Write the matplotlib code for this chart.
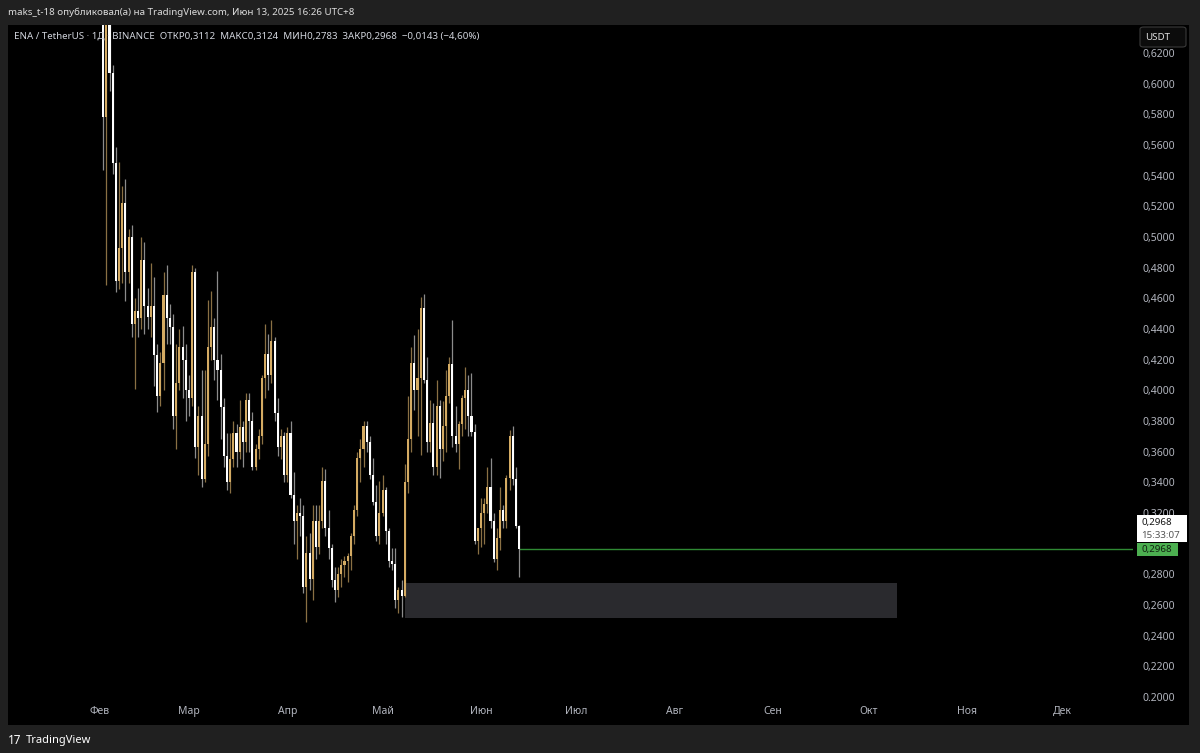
import numpy as np
import pandas as pd
import matplotlib
matplotlib.use("Agg")
import matplotlib.pyplot as plt
import matplotlib.dates as mdates
from matplotlib.patches import Rectangle, FancyBboxPatch

plt.rcParams['font.family'] = ['Noto Sans', 'DejaVu Sans']

# Daily candles ENA/USDT, 1 Feb - 13 Jun 2025
dates = pd.date_range('2025-02-01', '2025-06-13', freq='D')
opens = [0.780, 0.700, 0.578, 0.640, 0.607, 0.548, 0.471, 0.493, 0.522, 0.477,
         0.500, 0.443, 0.452, 0.447, 0.485, 0.455, 0.448, 0.455, 0.423, 0.396,
         0.418, 0.462, 0.447, 0.441, 0.383, 0.405, 0.428, 0.420, 0.400, 0.395,
         0.477, 0.363, 0.383, 0.342, 0.365, 0.428, 0.441, 0.420, 0.413, 0.389,
         0.357, 0.340, 0.355, 0.372, 0.360, 0.376, 0.366, 0.394, 0.380, 0.350,
         0.362, 0.370, 0.408, 0.424, 0.410, 0.432, 0.385, 0.363, 0.370, 0.345,
         0.372, 0.332, 0.315, 0.320, 0.318, 0.272, 0.294, 0.277, 0.315, 0.298,
         0.315, 0.341, 0.310, 0.297, 0.276, 0.270, 0.280, 0.286, 0.289, 0.292,
         0.305, 0.322, 0.356, 0.362, 0.377, 0.366, 0.345, 0.327, 0.305, 0.320,
         0.335, 0.308, 0.289, 0.287, 0.263, 0.270, 0.266, 0.340, 0.368, 0.418,
         0.400, 0.408, 0.454, 0.407, 0.366, 0.379, 0.350, 0.390, 0.362, 0.377,
         0.396, 0.417, 0.370, 0.365, 0.378, 0.395, 0.400, 0.383, 0.373, 0.302,
         0.310, 0.320, 0.326, 0.337, 0.315, 0.290, 0.304, 0.322, 0.315, 0.343,
         0.370, 0.342, 0.3112]
highs = [0.800, 0.720, 0.660, 0.655, 0.612, 0.559, 0.549, 0.533, 0.538, 0.505,
         0.508, 0.460, 0.467, 0.500, 0.497, 0.467, 0.483, 0.474, 0.430, 0.425,
         0.477, 0.482, 0.456, 0.450, 0.430, 0.440, 0.442, 0.430, 0.410, 0.482,
         0.480, 0.390, 0.413, 0.413, 0.459, 0.465, 0.447, 0.478, 0.424, 0.395,
         0.372, 0.372, 0.380, 0.378, 0.394, 0.380, 0.398, 0.398, 0.386, 0.365,
         0.375, 0.410, 0.443, 0.437, 0.446, 0.435, 0.395, 0.375, 0.373, 0.376,
         0.380, 0.347, 0.325, 0.330, 0.325, 0.305, 0.307, 0.325, 0.325, 0.325,
         0.350, 0.349, 0.322, 0.300, 0.285, 0.285, 0.290, 0.292, 0.294, 0.307,
         0.325, 0.360, 0.368, 0.380, 0.380, 0.370, 0.356, 0.338, 0.341, 0.345,
         0.337, 0.310, 0.297, 0.297, 0.272, 0.276, 0.352, 0.396, 0.428, 0.436,
         0.440, 0.461, 0.463, 0.422, 0.394, 0.392, 0.407, 0.394, 0.393, 0.413,
         0.422, 0.446, 0.390, 0.380, 0.397, 0.415, 0.410, 0.411, 0.378, 0.310,
         0.330, 0.330, 0.350, 0.356, 0.320, 0.310, 0.337, 0.325, 0.345, 0.374,
         0.377, 0.350, 0.3124]
lows = [0.660, 0.544, 0.469, 0.595, 0.541, 0.464, 0.466, 0.470, 0.458, 0.470,
        0.435, 0.401, 0.435, 0.440, 0.437, 0.440, 0.435, 0.403, 0.386, 0.390,
        0.400, 0.430, 0.430, 0.375, 0.362, 0.400, 0.395, 0.380, 0.383, 0.390,
        0.356, 0.345, 0.337, 0.340, 0.357, 0.420, 0.407, 0.394, 0.368, 0.350,
        0.335, 0.333, 0.350, 0.350, 0.355, 0.350, 0.360, 0.360, 0.348, 0.348,
        0.355, 0.365, 0.395, 0.400, 0.405, 0.380, 0.357, 0.355, 0.340, 0.340,
        0.330, 0.300, 0.290, 0.305, 0.268, 0.249, 0.270, 0.263, 0.290, 0.293,
        0.310, 0.305, 0.290, 0.272, 0.262, 0.265, 0.272, 0.278, 0.275, 0.283,
        0.300, 0.318, 0.340, 0.350, 0.360, 0.342, 0.325, 0.302, 0.300, 0.318,
        0.300, 0.285, 0.283, 0.258, 0.255, 0.252, 0.265, 0.333, 0.360, 0.387,
        0.370, 0.358, 0.405, 0.360, 0.360, 0.345, 0.345, 0.343, 0.354, 0.360,
        0.392, 0.363, 0.360, 0.349, 0.370, 0.375, 0.370, 0.370, 0.300, 0.293,
        0.298, 0.300, 0.320, 0.310, 0.288, 0.283, 0.296, 0.310, 0.310, 0.335,
        0.338, 0.310, 0.2783]
closes = [0.700, 0.578, 0.640, 0.607, 0.548, 0.471, 0.493, 0.522, 0.477, 0.500,
          0.443, 0.452, 0.447, 0.485, 0.455, 0.448, 0.455, 0.423, 0.396, 0.418,
          0.462, 0.447, 0.441, 0.383, 0.405, 0.428, 0.420, 0.400, 0.395, 0.477,
          0.363, 0.383, 0.342, 0.365, 0.428, 0.441, 0.420, 0.413, 0.389, 0.357,
          0.340, 0.355, 0.372, 0.360, 0.376, 0.366, 0.394, 0.380, 0.350, 0.362,
          0.370, 0.408, 0.424, 0.410, 0.432, 0.385, 0.363, 0.370, 0.345, 0.372,
          0.332, 0.315, 0.320, 0.318, 0.272, 0.294, 0.277, 0.315, 0.298, 0.315,
          0.341, 0.310, 0.297, 0.276, 0.270, 0.280, 0.286, 0.289, 0.292, 0.305,
          0.322, 0.356, 0.362, 0.377, 0.366, 0.345, 0.327, 0.305, 0.320, 0.335,
          0.308, 0.289, 0.287, 0.263, 0.270, 0.266, 0.340, 0.368, 0.418, 0.400,
          0.408, 0.454, 0.407, 0.366, 0.379, 0.350, 0.390, 0.362, 0.377, 0.396,
          0.417, 0.370, 0.365, 0.378, 0.395, 0.400, 0.383, 0.373, 0.302, 0.310,
          0.320, 0.326, 0.337, 0.315, 0.290, 0.304, 0.322, 0.315, 0.343, 0.370,
          0.342, 0.3112, 0.2968]

# drawn zone and horizontal ray
zone_start, zone_end = '2025-05-08', '2025-10-10'
zone_low, zone_high = 0.2515, 0.2745
last_price = 0.2968

# 0,3000 sits under the last-price labels, so it is not shown
price_ticks = [0.20, 0.22, 0.24, 0.26, 0.28, 0.32, 0.34, 0.36, 0.38, 0.40, 0.42,
               0.44, 0.46, 0.48, 0.50, 0.52, 0.54, 0.56, 0.58, 0.60, 0.62]
price_labels = [f'{v:.4f}'.replace('.', ',') for v in price_ticks]
price_labels[0] = '0.2000'
month_starts = pd.date_range('2025-02-01', '2025-12-01', freq='MS')
month_labels = ['Фев', 'Мар', 'Апр', 'Май', 'Июн', 'Июл', 'Авг', 'Сен', 'Окт', 'Ноя', 'Дек']

W, H = 1200, 753
fig = plt.figure(figsize=(W / 100, H / 100), dpi=100)
fig.patch.set_facecolor('#202020')

def box(x0, y0, x1, y1):
    # pixel box (top-left origin) -> figure fraction rect
    return [x0 / W, 1 - y1 / H, (x1 - x0) / W, (y1 - y0) / H]

bg = fig.add_axes(box(8, 25, 1189, 725))
bg.set_facecolor('black')
bg.set_xticks([])
bg.set_yticks([])
for s in bg.spines.values():
    s.set_visible(False)

ax = fig.add_axes(box(8, 25, 1133, 725))
ax.patch.set_alpha(0)
for s in ax.spines.values():
    s.set_visible(False)

x = mdates.date2num(dates)
feb1 = mdates.date2num(pd.Timestamp('2025-02-01'))
ppd = 3.175
ax.set_xlim(feb1 - (100 - 8) / ppd, feb1 + (1133 - 100) / ppd)
ppu = 1533.3
ax.set_ylim(0.20 - (725 - 697) / ppu, 0.62 + (53 - 25) / ppu)

o = np.array(opens); h = np.array(highs); l = np.array(lows); c = np.array(closes)
up = c >= o
up_body, up_wick = '#d4ab63', '#8a7044'
dn_body, dn_wick = '#ffffff', '#8c8c8c'

ax.vlines(x[up], l[up], h[up], color=up_wick, lw=0.9, zorder=3)
ax.vlines(x[~up], l[~up], h[~up], color=dn_wick, lw=0.9, zorder=3)
bw = 0.65
bh = np.maximum(np.abs(c - o), 0.0015)
ax.bar(x[up], bh[up], bottom=np.minimum(o, c)[up], width=bw, color=up_body, lw=0, zorder=4)
ax.bar(x[~up], bh[~up], bottom=np.minimum(o, c)[~up], width=bw, color=dn_body, lw=0, zorder=4)

zs = mdates.date2num(pd.Timestamp(zone_start))
ze = mdates.date2num(pd.Timestamp(zone_end))
ax.add_patch(Rectangle((zs, zone_low), ze - zs, zone_high - zone_low,
                       facecolor='#2a2a2e', edgecolor='none', zorder=2))
ax.hlines(last_price, x[-1], ax.get_xlim()[1], color='#2f8a34', lw=1.0, zorder=2)

ax.yaxis.tick_right()
ax.set_yticks(price_ticks, price_labels)
ax.tick_params(axis='y', length=0, pad=7, labelsize=7.5, labelcolor='#b2b5be')
ax.set_xticks(mdates.date2num(month_starts), month_labels)
ax.tick_params(axis='x', length=0, pad=-13.5, labelsize=7.5, labelcolor='#b2b5be')

# header texts
fig.text(8 / W, 1 - 12 / H, 'maks_t-18 опубликовал(а) на TradingView.com, Июн 13, 2025 16:26 UTC+8',
         color='#dcdcdc', fontsize=7, va='center', ha='left')
fig.text(14 / W, 1 - 36 / H,
         'ENA / TetherUS · 1Д · BINANCE  ОТКР0,3112  МАКС0,3124  МИН0,2783  ЗАКР0,2968  −0,0143 (−4,60%)',
         color='#d1d4dc', fontsize=7, va='center', ha='left', zorder=10)

# USDT button
fig.patches.append(FancyBboxPatch((1140 / W, 1 - 47 / H), 46 / W, 20 / H,
                                  boxstyle='round,pad=0,rounding_size=0.003',
                                  transform=fig.transFigure, facecolor='#0c0c0c',
                                  edgecolor='#3a3a3a', lw=0.8, zorder=20))
fig.text(1158 / W, 1 - 37 / H, 'USDT', color='#e0e0e0', fontsize=7, ha='center', va='center', zorder=21)

# last price labels
fig.patches.append(Rectangle((1137 / W, 1 - 542 / H), 50 / W, 27 / H, transform=fig.transFigure,
                             facecolor='white', edgecolor='none', zorder=20))
fig.text(1141 / W, 1 - 522 / H, '0,2968', color='#131313', fontsize=7, va='center', zorder=21)
fig.text(1141 / W, 1 - 535 / H, '15:33:07', color='#555555', fontsize=7, va='center', zorder=21)
fig.patches.append(Rectangle((1137 / W, 1 - 556 / H), 41 / W, 13 / H, transform=fig.transFigure,
                             facecolor='#4caf50', edgecolor='none', zorder=20))
fig.text(1141 / W, 1 - 549.5 / H, '0,2968', color='#102010', fontsize=7, va='center', zorder=21)

# footer logo
fig.text(8 / W, 1 - 740 / H, '17', color='white', fontsize=8.5, fontweight='bold', va='center')
fig.text(26 / W, 1 - 740 / H, 'TradingView', color='white', fontsize=8, va='center')

fig.savefig('out.png', dpi=100, facecolor=fig.get_facecolor())
